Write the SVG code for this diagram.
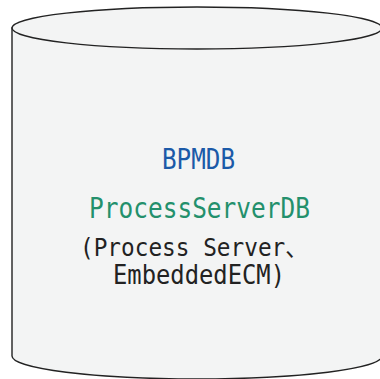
<svg xmlns="http://www.w3.org/2000/svg" width="380" height="379" viewBox="0 0 380 379">
  <style>
    .cyl { fill: #f3f4f4; stroke: #222; stroke-width: 1.4; }
    .t { font-family: "DejaVu Sans Mono", "Liberation Mono", "Noto Sans CJK JP", monospace; }
  </style>
  <rect width="380" height="379" fill="#ffffff"/>
  <g id="bpmdb">
    <path class="cyl" d="M12,28 L12,356 A185,23 0 0,0 382,356 L382,28 Z"/>
    <ellipse class="cyl" cx="197" cy="28" rx="185" ry="21"/>
    <text class="t" x="162" y="168.5" font-size="28" fill="#1b5aa8" textLength="73" lengthAdjust="spacingAndGlyphs">BPMDB</text>
    <text class="t" x="89" y="217.5" font-size="29" fill="#23906c" textLength="221" lengthAdjust="spacingAndGlyphs">ProcessServerDB</text>
    <text class="t" x="80" y="256" font-size="25.5" fill="#222" textLength="228" lengthAdjust="spacingAndGlyphs">(Process Server、</text>
    <text class="t" x="113" y="283.5" font-size="26" fill="#222" textLength="172" lengthAdjust="spacingAndGlyphs">EmbeddedECM)</text>
  </g>
</svg>
